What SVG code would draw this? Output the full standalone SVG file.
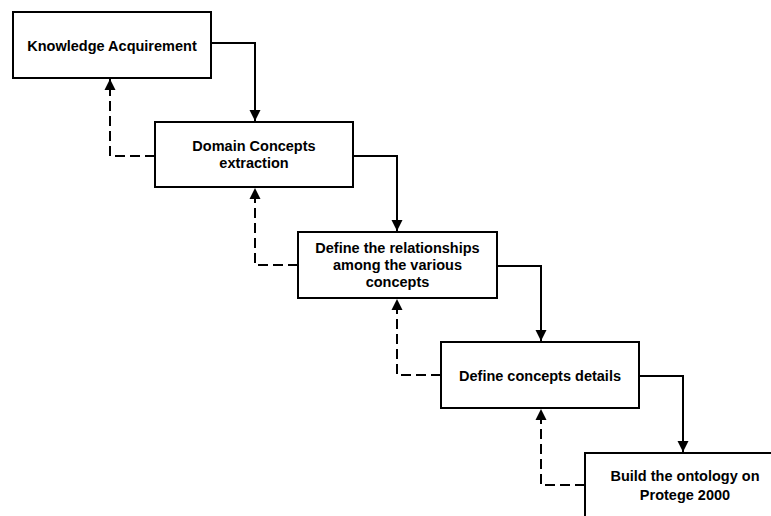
<svg xmlns="http://www.w3.org/2000/svg" width="771" height="516" viewBox="0 0 771 516">
<defs>
<style>
.box{fill:#fff;stroke:#000;stroke-width:2}
.t{font-family:"Liberation Sans",Arial,sans-serif;font-weight:bold;font-size:14.5px;fill:#000;text-anchor:middle}
.solid{fill:none;stroke:#000;stroke-width:2}
.dash{fill:none;stroke:#000;stroke-width:2;stroke-dasharray:10,5}
</style>
<marker id="ah" markerUnits="userSpaceOnUse" markerWidth="12" markerHeight="12" viewBox="0 0 12 12" refX="11" refY="6" orient="auto">
<path d="M0,0.5 L11,6 L0,11.5 Z" fill="#000"/>
</marker>
</defs>
<rect width="771" height="516" fill="#fff"/>
<g id="connectors">
<path class="solid" d="M211,43 H255 V121" marker-end="url(#ah)"/>
<path class="solid" d="M353,156 H397 V231" marker-end="url(#ah)"/>
<path class="solid" d="M497,266 H541 V341" marker-end="url(#ah)"/>
<path class="solid" d="M639,376 H683 V452" marker-end="url(#ah)"/>
<path class="dash" d="M155,156 H110 V79" marker-end="url(#ah)"/>
<path class="dash" d="M298,265 H255 V188" marker-end="url(#ah)"/>
<path class="dash" d="M441,375 H397 V299" marker-end="url(#ah)"/>
<path class="dash" d="M585,485 H541 V409" marker-end="url(#ah)"/>
</g>
<g id="n1">
<rect class="box" x="13" y="12" width="198" height="66"/>
<text class="t" x="112" y="50.5">Knowledge Acquirement</text>
</g>
<g id="n2">
<rect class="box" x="155" y="122" width="198" height="65"/>
<text class="t" x="254" y="151">Domain Concepts</text>
<text class="t" x="254" y="167.5">extraction</text>
</g>
<g id="n3">
<rect class="box" x="298" y="232" width="199" height="66"/>
<text class="t" x="397.5" y="252.5">Define the relationships</text>
<text class="t" x="397.5" y="269.5">among the various</text>
<text class="t" x="397.5" y="286.5">concepts</text>
</g>
<g id="n4">
<rect class="box" x="441" y="342" width="198" height="66"/>
<text class="t" x="540" y="380.5">Define concepts details</text>
</g>
<g id="n5">
<rect class="box" x="585" y="453" width="200" height="70"/>
<text class="t" x="685" y="481">Build the ontology on</text>
<text class="t" x="685" y="500">Protege 2000</text>
</g>
</svg>
